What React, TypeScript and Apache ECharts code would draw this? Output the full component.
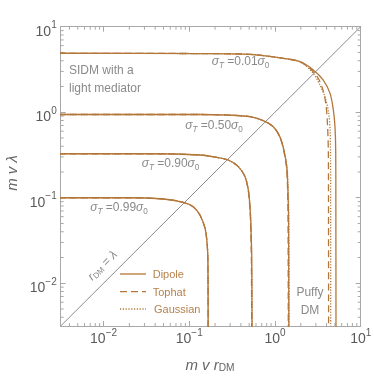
import React, { useEffect, useRef } from 'react';
import * as echarts from 'echarts';

// ---- axis ranges & ticks ----
const X_MIN = 0.0031623;
const X_MAX = 10;
const Y_MIN = 0.0031623;
const Y_MAX = 10;
const minorTicks = [
  0.004, 0.005, 0.006, 0.007, 0.008, 0.009,
  0.02, 0.03, 0.04, 0.05, 0.06, 0.07, 0.08, 0.09,
  0.2, 0.3, 0.4, 0.5, 0.6, 0.7, 0.8, 0.9,
  2, 3, 4, 5, 6, 7, 8, 9,
];

// ---- curves: [m v r_DM, m v lambda] ----
const dipole001 = [[0.003, 4.89], [0.133, 4.85], [0.511, 4.75], [1.25, 4.27], [1.96, 3.9], [2.8, 3.12], [3.66, 2.38], [4.39, 1.66], [4.8, 1.06], [5.01, 0.676], [5.11, 0.361], [5.13, 0.094], [5.15, 0.003]];
const tophat001 = [[0.003, 4.89], [0.133, 4.85], [0.511, 4.75], [1.25, 4.27], [1.96, 3.88], [2.56, 3.24], [3.18, 2.51], [3.63, 1.82], [3.94, 1.21], [4.1, 0.708], [4.19, 0.361], [4.21, 0.1], [4.22, 0.003]];
const gaussian001 = [[0.003, 4.89], [0.133, 4.85], [0.511, 4.75], [1.25, 4.27], [1.96, 3.89], [2.78, 2.87], [3.35, 2.08], [3.83, 1.51], [4.22, 1.0], [4.39, 0.62], [4.45, 0.276], [4.46, 0.1], [4.47, 0.003]];

const dipole050 = [[0.003, 0.94], [0.133, 0.94], [0.299, 0.923], [0.511, 0.886], [0.731, 0.796], [0.956, 0.676], [1.14, 0.516], [1.27, 0.361], [1.37, 0.231], [1.41, 0.135], [1.44, 0.0548], [1.45, 0.003]];
const tophat050 = [[0.003, 0.94], [0.133, 0.94], [0.299, 0.923], [0.511, 0.886], [0.731, 0.796], [0.956, 0.676], [1.14, 0.516], [1.26, 0.361], [1.36, 0.231], [1.4, 0.135], [1.42, 0.0548], [1.43, 0.003]];
const gaussian050 = [[0.003, 0.94], [0.133, 0.94], [0.299, 0.923], [0.511, 0.886], [0.731, 0.796], [0.956, 0.676], [1.14, 0.516], [1.27, 0.361], [1.38, 0.231], [1.42, 0.135], [1.45, 0.0548], [1.46, 0.003]];

const dipole090 = [[0.003, 0.327], [0.0348, 0.327], [0.133, 0.316], [0.209, 0.297], [0.285, 0.276], [0.373, 0.231], [0.447, 0.176], [0.489, 0.123], [0.511, 0.0785], [0.521, 0.0548], [0.535, 0.02], [0.54, 0.003]];
const tophat090 = [[0.003, 0.327], [0.0348, 0.327], [0.133, 0.316], [0.209, 0.297], [0.285, 0.276], [0.373, 0.231], [0.447, 0.176], [0.487, 0.123], [0.508, 0.0785], [0.518, 0.0548], [0.53, 0.02], [0.535, 0.003]];
const gaussian090 = [[0.003, 0.327], [0.0348, 0.327], [0.133, 0.316], [0.209, 0.297], [0.285, 0.276], [0.373, 0.231], [0.447, 0.176], [0.489, 0.123], [0.511, 0.0785], [0.521, 0.0548], [0.535, 0.02], [0.54, 0.003]];

const dipole099 = [[0.003, 0.1], [0.0204, 0.1], [0.0498, 0.0966], [0.0851, 0.0883], [0.111, 0.0785], [0.133, 0.0628], [0.153, 0.0438], [0.162, 0.028], [0.165, 0.0178], [0.166, 0.003]];
const tophat099 = [[0.003, 0.1], [0.0204, 0.1], [0.0498, 0.0966], [0.0851, 0.0883], [0.111, 0.0785], [0.133, 0.0628], [0.153, 0.0438], [0.162, 0.028], [0.165, 0.0178], [0.166, 0.003]];
const gaussian099 = [[0.003, 0.1], [0.0204, 0.1], [0.0498, 0.0966], [0.0851, 0.0883], [0.111, 0.0785], [0.133, 0.0628], [0.153, 0.0438], [0.162, 0.028], [0.165, 0.0178], [0.166, 0.003]];

const diagonal = [[X_MIN, Y_MIN], [X_MAX, Y_MAX]];

const legendNames = ['Dipole', 'Tophat', 'Gaussian'];
const curveLabels = ['0.01', '0.50', '0.90', '0.99'];

// ---- styles ----
const FONT = 'Liberation Sans, Arial, sans-serif';
const CURVE = '#b3773a';
const LEGEND_TXT = '#b5824c';
const ANNOT = '#8a8a8a';
const TICK_TXT = '#5a5a5a';
const FRAME = '#a8a8a8';
const DASH = [7, 4];
const DOT = [1.2, 1.6];

const expFormatter = (v: number) => {
  const e = Math.log10(v);
  const r = Math.round(e);
  if (Math.abs(e - r) > 1e-6) return '';
  const s = r < 0 ? '\u2212' + String(-r) : String(r);
  return `{b|10}{s|${s}}`;
};

const tickRich = {
  b: { fontSize: 14, lineHeight: 14, padding: [4, 0, 4, 0], verticalAlign: 'top', color: TICK_TXT, fontFamily: FONT },
  s: { fontSize: 10, lineHeight: 10, verticalAlign: 'top', color: TICK_TXT, fontFamily: FONT },
};

const mkAxis = (kind: 'x' | 'y', position: string, showLabel: boolean) => ({
  type: 'log',
  logBase: 10,
  min: kind === 'x' ? X_MIN : Y_MIN,
  max: kind === 'x' ? X_MAX : Y_MAX,
  position,
  axisLine: { show: true, onZero: false, lineStyle: { color: FRAME, width: 1 } },
  axisTick: { show: true, inside: true, length: 5, lineStyle: { color: FRAME, width: 1 } },
  axisLabel: {
    show: showLabel,
    showMinLabel: false,
    formatter: expFormatter,
    rich: tickRich,
    margin: kind === 'x' ? 1 : 4,
  },
  splitLine: { show: false },
  minorTick: { show: false },
});

const mkLine = (data: number[][], type: any, z: number) => ({
  type: 'line',
  data,
  symbol: 'none',
  showSymbol: false,
  smooth: 0.3,
  clip: true,
  silent: true,
  z,
  lineStyle: { color: CURVE, width: 1.3, type },
});

const subRich = (size: number, color: string, drop: number) => ({
  i: { fontSize: size, fontStyle: 'italic', fill: color, fontFamily: FONT, lineHeight: size + 2, verticalAlign: 'top' },
  n: { fontSize: size, fill: color, fontFamily: FONT, lineHeight: size + 2, verticalAlign: 'top' },
  s: { fontSize: size * 0.68, fontStyle: 'italic', fill: color, fontFamily: FONT, lineHeight: size * 0.68, padding: [drop, 0, 0, 0], verticalAlign: 'top' },
  u: { fontSize: size * 0.68, fill: color, fontFamily: FONT, lineHeight: size * 0.68, padding: [drop, 0, 0, 0], verticalAlign: 'top' },
});

const sigmaLabel = (val: string, x: number, y: number) => ({
  type: 'text',
  x,
  y,
  silent: true,
  style: {
    text: `{i|σ}{s|T}{n| =${val}}{i|σ}{u|0}`,
    rich: subRich(12, ANNOT, 6.5),
    align: 'center',
    verticalAlign: 'middle',
  },
});

export default function App() {
  const ref = useRef<HTMLDivElement>(null);
  useEffect(() => {
    if (!ref.current) return;
    const chart = echarts.init(ref.current, undefined, { renderer: 'svg' });
    const option: any = {
      animation: false,
      grid: { left: 60.7, top: 26.7, width: 300, height: 299.3, containLabel: false, outerBoundsMode: 'none' },
      xAxis: [mkAxis('x', 'bottom', true), mkAxis('x', 'top', false)],
      yAxis: [mkAxis('y', 'left', true), mkAxis('y', 'right', false)],
      series: [
        {
          type: 'custom',
          silent: true,
          clip: false,
          data: minorTicks.map((v) => [v, v]),
          renderItem: (_p: any, api: any) => {
            const v = api.value(0);
            const b = api.coord([v, Y_MIN]);
            const t = api.coord([v, Y_MAX]);
            const l = api.coord([X_MIN, v]);
            const r = api.coord([X_MAX, v]);
            const st = { stroke: FRAME, lineWidth: 1 };
            return {
              type: 'group',
              children: [
                { type: 'line', shape: { x1: b[0], y1: b[1], x2: b[0], y2: b[1] - 3 }, style: st },
                { type: 'line', shape: { x1: t[0], y1: t[1], x2: t[0], y2: t[1] + 3 }, style: st },
                { type: 'line', shape: { x1: l[0], y1: l[1], x2: l[0] + 3, y2: l[1] }, style: st },
                { type: 'line', shape: { x1: r[0], y1: r[1], x2: r[0] - 3, y2: r[1] }, style: st },
              ],
            };
          },
        },
        {
          type: 'line',
          data: diagonal,
          symbol: 'none',
          silent: true,
          z: 2,
          lineStyle: { color: '#8c8c8c', width: 1 },
        },
        mkLine(tophat001, DASH, 3),
        mkLine(gaussian001, DOT, 3),
        mkLine(dipole001, 'solid', 4),
        mkLine(tophat050, DASH, 3),
        mkLine(gaussian050, DOT, 3),
        mkLine(dipole050, 'solid', 4),
        mkLine(tophat090, DASH, 3),
        mkLine(gaussian090, DOT, 3),
        mkLine(dipole090, 'solid', 4),
        mkLine(tophat099, DASH, 3),
        mkLine(gaussian099, DOT, 3),
        mkLine(dipole099, 'solid', 4),
      ],
      graphic: [
        sigmaLabel(curveLabels[0], 240.5, 62),
        sigmaLabel(curveLabels[1], 214, 126),
        sigmaLabel(curveLabels[2], 170.5, 164),
        sigmaLabel(curveLabels[3], 119, 208),
        {
          type: 'text',
          x: 69,
          y: 79,
          silent: true,
          style: {
            text: 'SIDM with a\nlight mediator',
            fill: ANNOT,
            fontSize: 12,
            fontFamily: FONT,
            lineHeight: 18.3,
            align: 'left',
            verticalAlign: 'middle',
          },
        },
        {
          type: 'text',
          x: 310,
          y: 301,
          silent: true,
          style: {
            text: 'Puffy\nDM',
            fill: ANNOT,
            fontSize: 12,
            fontFamily: FONT,
            lineHeight: 18.5,
            align: 'center',
            verticalAlign: 'middle',
          },
        },
        {
          type: 'text',
          x: 103,
          y: 266,
          rotation: Math.PI / 4,
          silent: true,
          style: {
            text: '{i|r}{u|DM}{n| = }{i|λ}',
            rich: subRich(12, ANNOT, 5),
            align: 'center',
            verticalAlign: 'middle',
          },
        },
        // legend
        { type: 'line', silent: true, shape: { x1: 120, y1: 274, x2: 146, y2: 274 }, style: { stroke: CURVE, lineWidth: 1.3 } },
        { type: 'line', silent: true, shape: { x1: 120, y1: 291.7, x2: 146, y2: 291.7 }, style: { stroke: CURVE, lineWidth: 1.3, lineDash: DASH } },
        { type: 'line', silent: true, shape: { x1: 120, y1: 309, x2: 146, y2: 309 }, style: { stroke: CURVE, lineWidth: 1.3, lineDash: DOT } },
        { type: 'text', silent: true, x: 152.7, y: 274, style: { text: legendNames[0], fill: LEGEND_TXT, fontSize: 11, fontFamily: FONT, align: 'left', verticalAlign: 'middle' } },
        { type: 'text', silent: true, x: 152.7, y: 291.7, style: { text: legendNames[1], fill: LEGEND_TXT, fontSize: 11, fontFamily: FONT, align: 'left', verticalAlign: 'middle' } },
        { type: 'text', silent: true, x: 154, y: 309, style: { text: legendNames[2], fill: LEGEND_TXT, fontSize: 11, fontFamily: FONT, align: 'left', verticalAlign: 'middle' } },
        // axis names
        {
          type: 'text',
          x: 210,
          y: 365,
          silent: true,
          style: {
            text: '{i|m v r}{u|DM}',
            rich: subRich(15, '#666', 6),
            align: 'center',
            verticalAlign: 'middle',
          },
        },
        {
          type: 'text',
          x: 12.5,
          y: 173,
          rotation: Math.PI / 2,
          silent: true,
          style: {
            text: '{i|m v λ}',
            rich: subRich(15, '#666', 6),
            align: 'center',
            verticalAlign: 'middle',
          },
        },
      ],
    };
    chart.setOption(option);
    return () => chart.dispose();
  }, []);
  return <div ref={ref} style={{ position: 'fixed', left: 0, top: 0, width: 374, height: 376 }} />;
}
